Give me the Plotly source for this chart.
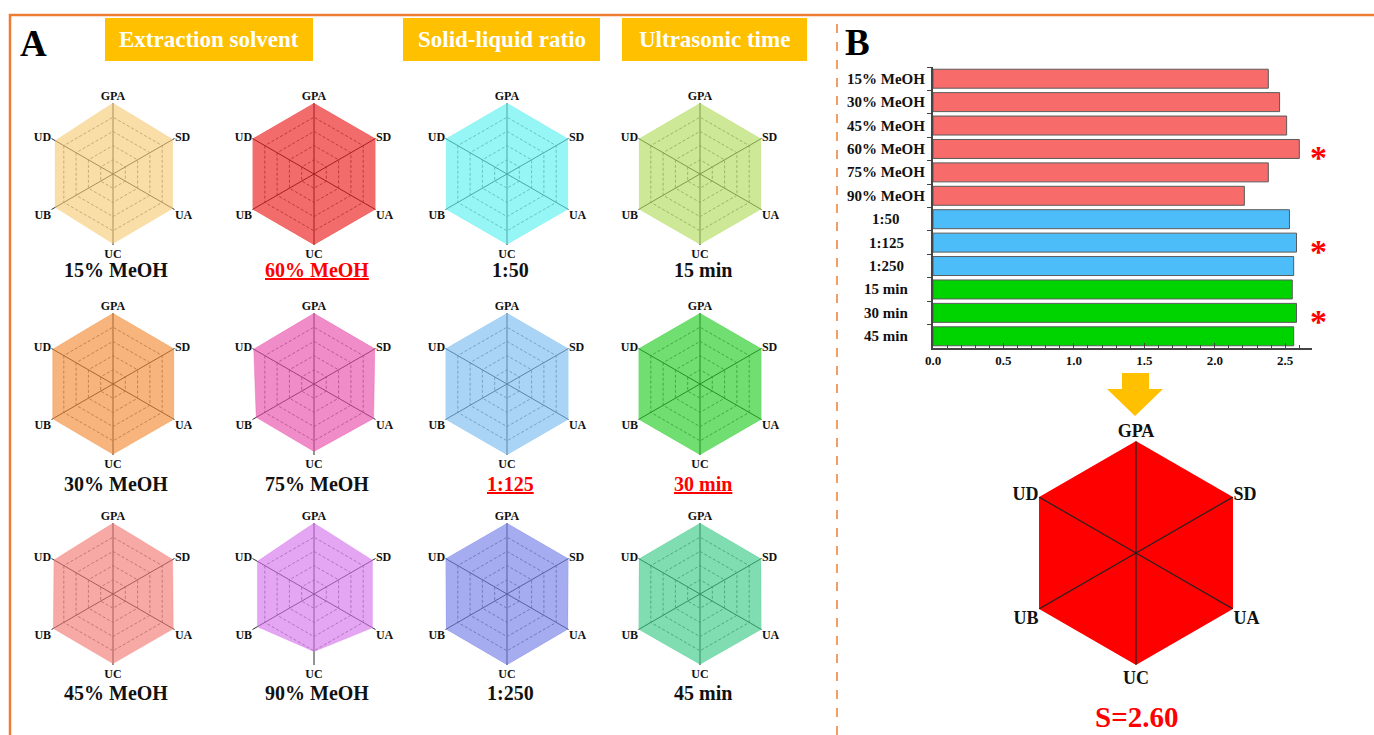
import plotly.graph_objects as go

W, H = 1374, 735
SERIF = "Times New Roman, Liberation Serif, serif"

# ---------------- data ----------------
indicators = ["GPA", "SD", "UA", "UC", "UB", "UD"]

solvent_labels = ["15% MeOH", "30% MeOH", "45% MeOH", "60% MeOH", "75% MeOH", "90% MeOH"]
ratio_labels = ["1:50", "1:125", "1:250"]
time_labels = ["15 min", "30 min", "45 min"]

# comprehensive score S for each condition
solvent_scores = [2.38, 2.46, 2.51, 2.60, 2.38, 2.21]
ratio_scores = [2.53, 2.58, 2.56]
time_scores = [2.55, 2.58, 2.56]

# normalised indicator values (GPA, SD, UA, UC, UB, UD)
solvent_radar = [
    [1.00, 0.97, 0.97, 0.98, 0.94, 0.94],
    [1.00, 0.99, 0.99, 0.99, 0.98, 0.98],
    [1.00, 0.97, 0.98, 0.98, 0.97, 0.96],
    [1.00, 1.00, 1.00, 1.00, 1.00, 1.00],
    [1.00, 0.99, 0.97, 0.95, 0.94, 0.98],
    [1.00, 0.95, 0.95, 0.81, 0.92, 0.92],
]
ratio_radar = [
    [1.00, 0.99, 0.99, 0.99, 0.99, 0.99],
    [1.00, 1.00, 1.00, 1.00, 1.00, 1.00],
    [1.00, 1.00, 0.99, 1.00, 0.99, 1.00],
]
time_radar = [
    [1.00, 0.99, 0.99, 0.99, 0.99, 0.99],
    [1.00, 1.00, 1.00, 1.00, 1.00, 1.00],
    [1.00, 0.99, 1.00, 0.99, 1.00, 0.99],
]

optimum_radar = [1.00, 1.00, 1.00, 1.00, 1.00, 1.00]
optimum_score = 2.60

# ---------------- styles ----------------
solvent_colors = ["#FADEA8", "#F7B47C", "#F7AAA5", "#F26C6C", "#F08CC8", "#E4A5F2"]
ratio_colors = ["#96F5F5", "#AAD4F5", "#A5ACF0"]
time_colors = ["#CDE896", "#70DE70", "#80DDB2"]
bar_colors = ["#F86B6B", "#4DBDF9", "#00D400"]

ORANGE = "#ED7D31"
GOLD = "#FFC000"
FILL_ALPHA = 0.64

# horizontal placement grid: page pixel -> paper fraction
X_INSET, X_SPAN = 8, 1366


def px(x):
    return (x - X_INSET) / X_SPAN


def py(y):
    return 1 - y / H


def see_through(hex_color, alpha=FILL_ALPHA):
    """rgba colour that shows hex_color when laid over white"""
    h = hex_color.lstrip("#")
    rgb = [int(h[i:i + 2], 16) for i in (0, 2, 4)]
    base = [max(0, min(255, round((c - (1 - alpha) * 255) / alpha))) for c in rgb]
    return f"rgba({base[0]},{base[1]},{base[2]},{alpha})"


def text_at(x, y, text, size, color="#111", **kw):
    return dict(x=px(x), y=py(y), xref="paper", yref="paper", text=text,
                showarrow=False, xanchor="center", yanchor="middle",
                font=dict(family=SERIF, size=size, weight="bold", color=color), **kw)


fig = go.Figure()
polars = {}
annotations = []
shapes = []

# ---------------- panel A: small radar grid ----------------
col_x = [113, 314, 507, 700]
row_y = [174, 384, 594]
label_y = [270, 484, 693]
R_SMALL = 71

columns = [
    (solvent_labels[:3], solvent_radar[:3], solvent_colors[:3]),
    (solvent_labels[3:], solvent_radar[3:], solvent_colors[3:]),
    (ratio_labels, ratio_radar, ratio_colors),
    (time_labels, time_radar, time_colors),
]

best = {
    solvent_labels[solvent_scores.index(max(solvent_scores))],
    ratio_labels[ratio_scores.index(max(ratio_scores))],
    time_labels[time_scores.index(max(time_scores))],
}

closed = indicators + indicators[:1]
idx = 0
for ci, (labels, radars, colors) in enumerate(columns):
    for ri, (lab, vals, col) in enumerate(zip(labels, radars, colors)):
        idx += 1
        name = "polar" if idx == 1 else f"polar{idx}"
        cx, cy = col_x[ci], row_y[ri]
        polars[name] = dict(
            domain=dict(x=[px(cx - R_SMALL), px(cx + R_SMALL)],
                        y=[py(cy + R_SMALL), py(cy - R_SMALL)]),
            gridshape="linear",
            bgcolor="rgba(0,0,0,0)",
            radialaxis=dict(range=[0, 1], tickvals=[0.2, 0.4, 0.6, 0.8, 1.0],
                            showticklabels=False, ticks="", showline=False,
                            gridcolor="rgba(80,80,80,0.8)", griddash="3px,2px",
                            gridwidth=1),
            angularaxis=dict(type="category", categoryarray=indicators,
                             rotation=90, direction="clockwise",
                             showline=False, ticks="",
                             gridcolor="rgba(30,30,30,0.95)", gridwidth=1.4,
                             tickfont=dict(family=SERIF, size=12, color="#111",
                                           weight="bold")),
        )
        fig.add_trace(go.Scatterpolar(
            r=vals + vals[:1], theta=closed, mode="lines", fill="toself",
            fillcolor=see_through(col), line=dict(color=see_through(col), width=0.5),
            subplot=name, hoverinfo="skip", showlegend=False))
        is_best = lab in best
        annotations.append(text_at(cx + 3, label_y[ri],
                                   f"<u>{lab}</u>" if is_best else lab, 20,
                                   color="#FF0000" if is_best else "#111"))

# ---------------- panel B: optimum radar ----------------
idx += 1
big = f"polar{idx}"
BX, BY, BR = 1136, 553, 112
polars[big] = dict(
    domain=dict(x=[px(BX - BR), px(BX + BR)], y=[py(BY + BR), py(BY - BR)]),
    gridshape="linear",
    bgcolor="rgba(0,0,0,0)",
    radialaxis=dict(range=[0, 1], showgrid=False, showticklabels=False,
                    ticks="", showline=False),
    angularaxis=dict(type="category", categoryarray=indicators, rotation=90,
                     direction="clockwise", showline=False, showgrid=False,
                     ticks="",
                     tickfont=dict(family=SERIF, size=18, color="#111",
                                   weight="bold")),
)
fig.add_trace(go.Scatterpolar(
    r=optimum_radar + optimum_radar[:1], theta=closed, mode="lines",
    fill="toself", fillcolor="#FF0000", line=dict(color="#FF0000", width=0.5),
    subplot=big, hoverinfo="skip", showlegend=False))
spoke_r, spoke_t = [], []
for name_, v in zip(indicators, optimum_radar):
    spoke_r += [0, v, None]
    spoke_t += [name_, name_, name_]
fig.add_trace(go.Scatterpolar(
    r=spoke_r, theta=spoke_t, mode="lines", line=dict(color="#222", width=1.2),
    subplot=big, hoverinfo="skip", showlegend=False, connectgaps=False))

annotations.append(text_at(BX, 717, f"S={optimum_score:.2f}", 29, color="#FF0000"))

# ---------------- panel B: bar chart ----------------
groups = [
    (solvent_labels, solvent_scores, bar_colors[0]),
    (ratio_labels, ratio_scores, bar_colors[1]),
    (time_labels, time_scores, bar_colors[2]),
]
all_labels = solvent_labels + ratio_labels + time_labels
for labels, scores, color in groups:
    fig.add_trace(go.Bar(
        x=scores, y=labels, orientation="h", marker=dict(
            color=color, line=dict(color="#5a5a5a", width=1)),
        xaxis="x", yaxis="y", hoverinfo="skip", showlegend=False))

for lab in all_labels:
    annotations.append(dict(
        x=px(886), y=lab, xref="paper", yref="y", text=lab, showarrow=False,
        xanchor="center", yanchor="middle",
        font=dict(family=SERIF, size=15, weight="bold", color="#111")))

for labels, scores, _ in groups:
    star = labels[scores.index(max(scores))]
    annotations.append(dict(
        x=px(1318), y=star, xref="paper", yref="y", text="*", showarrow=False,
        xanchor="center", yanchor="middle", yshift=-9,
        font=dict(family=SERIF, size=34, weight="bold", color="#FF0000")))

# ---------------- headings, frame, arrow ----------------
headers = [("Extraction solvent", 105, 313), ("Solid-liquid ratio", 403, 600),
           ("Ultrasonic time", 622, 807)]
for text, x0, x1 in headers:
    shapes.append(dict(type="rect", xref="paper", yref="paper",
                       x0=px(x0), x1=px(x1), y0=py(61), y1=py(18),
                       fillcolor=GOLD, line=dict(width=0), layer="below"))
    annotations.append(text_at((x0 + x1) / 2, 40, text, 23, color="white"))

annotations.append(text_at(33, 44, "A", 37, color="#000"))
annotations.append(text_at(857, 42, "B", 37, color="#000"))

shapes.append(dict(type="rect", xref="paper", yref="paper",
                   x0=px(10), x1=px(1390), y0=py(750), y1=py(15),
                   line=dict(color=ORANGE, width=2.5), layer="below"))
shapes.append(dict(type="line", xref="paper", yref="paper",
                   x0=px(837), x1=px(837), y0=py(735), y1=py(15),
                   line=dict(color=ORANGE, width=1.5, dash="dash")))

arrow_pts = [(1122, 373), (1149, 373), (1149, 389), (1163, 389), (1135, 416),
             (1107, 389), (1122, 389)]
path = "M " + " L ".join(f"{px(x):.5f},{py(y):.5f}" for x, y in arrow_pts) + " Z"
shapes.append(dict(type="path", xref="paper", yref="paper", path=path,
                   fillcolor=GOLD, line=dict(width=0)))

fig.update_layout(
    width=W, height=H, margin=dict(l=0, r=0, t=0, b=0),
    paper_bgcolor="white", plot_bgcolor="white",
    bargap=0.19,
    xaxis=dict(domain=[px(933), px(1312)], anchor="y", range=[0, 2.69],
               dtick=0.5, tickformat=".1f", ticks="inside", ticklen=5,
               tickcolor="#444", showline=True, linecolor="#444", linewidth=1.5,
               showgrid=False, zeroline=False,
               minor=dict(dtick=0.1, ticks="inside", ticklen=3, tickcolor="#444"),
               tickfont=dict(family=SERIF, size=13, weight="bold", color="#111")),
    yaxis=dict(domain=[py(348), py(67)], anchor="x", type="category",
               categoryorder="array", categoryarray=all_labels,
               autorange="reversed", showticklabels=False, ticks="outside",
               tickson="boundaries", ticklen=4, tickcolor="#444",
               showline=True, linecolor="#444", linewidth=1.5, showgrid=False,
               zeroline=False),
    annotations=annotations,
    shapes=shapes,
    **polars,
)

fig.write_html("out.html")
